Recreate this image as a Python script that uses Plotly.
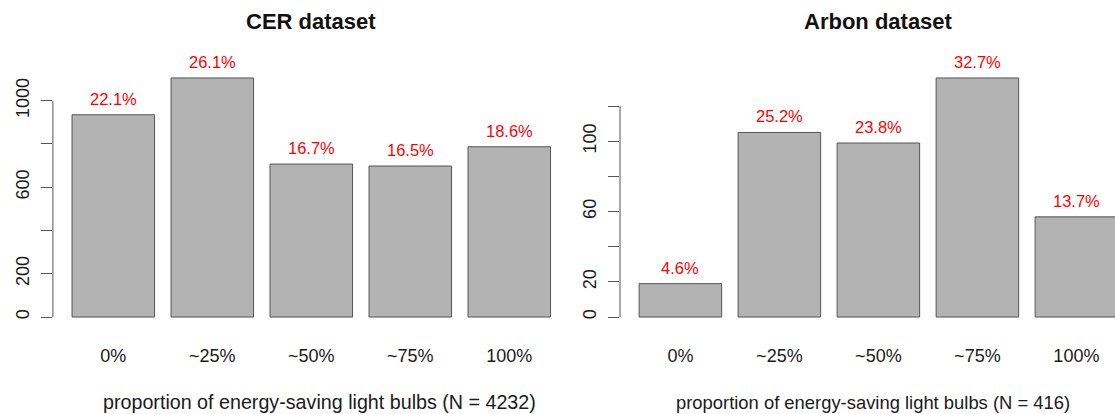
import plotly.graph_objects as go

# ---------------- data ----------------
categories = ["0%", "~25%", "~50%", "~75%", "100%"]
cer_counts = [935, 1105, 707, 698, 787]
cer_pct = ["22.1%", "26.1%", "16.7%", "16.5%", "18.6%"]
arbon_counts = [19, 105, 99, 136, 57]
arbon_pct = ["4.6%", "25.2%", "23.8%", "32.7%", "13.7%"]
cer_yticks = [0, 200, 400, 600, 800, 1000]
cer_yticklabels = ["0", "200", "", "600", "", "1000"]
arbon_yticks = [0, 20, 40, 60, 80, 100, 120]
arbon_yticklabels = ["0", "20", "", "60", "", "100", ""]
titles = ["CER dataset", "Arbon dataset"]
xtitles = ["proportion of energy-saving light bulbs (N = 4232)",
           "proportion of energy-saving light bulbs (N = 416)"]

# ---------------- geometry ----------------
W, H = 1115, 414
FONT = "Liberation Sans, Arial, Helvetica, sans-serif"
bar_w, space = 1.0, 0.2
n = len(categories)
centers = [space + i * (bar_w + space) + bar_w / 2 for i in range(n)]
x_lo, x_hi = space, n * (bar_w + space)
x_pad = 0.04 * (x_hi - x_lo)
xr = [x_lo - x_pad, x_hi + x_pad]
px_per_unit = 82.5
left_dom = [52.9 / W, (52.9 + (xr[1] - xr[0]) * px_per_unit) / W]
right_start = 620.0
right_dom = [right_start / W, 1.0]
xr2 = [xr[0], xr[0] + (W - right_start) / px_per_unit]
ydom = [(H - 326.6) / H, (H - 68.4) / H]


def yrange(vals):
    m = max(vals)
    return [-0.04 * m, m * 1.04]


fig = go.Figure()
bar_style = dict(marker=dict(color="#B3B3B3", line=dict(color="#555555", width=1)),
                 width=bar_w, hoverinfo="skip", showlegend=False)
fig.add_trace(go.Bar(x=centers, y=cer_counts, xaxis="x", yaxis="y", **bar_style))
fig.add_trace(go.Bar(x=centers, y=arbon_counts, xaxis="x2", yaxis="y2", **bar_style))

xcommon = dict(showgrid=False, zeroline=False, showline=False, ticks="",
               tickvals=centers, ticktext=categories,
               tickfont=dict(family=FONT, size=18, color="#1a1a1a"),
               ticklabelstandoff=16, fixedrange=True)
ycommon = dict(showgrid=False, zeroline=False, showline=False, ticks="outside",
               ticklen=11, tickcolor="#555555", tickwidth=1, tickangle=-90,
               tickfont=dict(family=FONT, size=18, color="#1a1a1a"),
               ticklabelstandoff=5, domain=ydom, fixedrange=True)

fig.update_layout(
    width=W, height=H, autosize=False,
    margin=dict(l=0, r=0, t=0, b=0, pad=0),
    paper_bgcolor="white", plot_bgcolor="white",
    font=dict(family=FONT, color="#1a1a1a"),
    xaxis=dict(domain=left_dom, range=xr, anchor="y", **xcommon),
    xaxis2=dict(domain=right_dom, range=xr2, anchor="y2", **xcommon),
    yaxis=dict(anchor="x", range=yrange(cer_counts), tickvals=cer_yticks,
               ticktext=cer_yticklabels, **ycommon),
    yaxis2=dict(anchor="x2", range=yrange(arbon_counts), tickvals=arbon_yticks,
                ticktext=arbon_yticklabels, **ycommon),
)

annotations = []
shapes = []
for (xa, ya, counts, pcts, yt) in [("x", "y", cer_counts, cer_pct, cer_yticks),
                                   ("x2", "y2", arbon_counts, arbon_pct, arbon_yticks)]:
    for c, v, p in zip(centers, counts, pcts):
        annotations.append(dict(x=c, y=v, xref=xa, yref=ya, text=p, showarrow=False,
                                yshift=16, yanchor="middle",
                                font=dict(family=FONT, size=16.5, color="#FF0000")))
    shapes.append(dict(type="line", xref=xa + " domain", yref=ya, x0=0, x1=0,
                       y0=yt[0], y1=yt[-1], line=dict(color="#555555", width=1)))

title_x = [311, 878]
xtitle_x = [319, 872.5]
xtitle_size = [19.7, 18.4]
for t, tx, xt, xx, xs in zip(titles, title_x, xtitles, xtitle_x, xtitle_size):
    annotations.append(dict(x=tx / W, y=(H - 21) / H, xref="paper", yref="paper",
                            text="<b>" + t + "</b>", showarrow=False,
                            xanchor="center", yanchor="middle",
                            font=dict(family=FONT, size=22, color="#111111")))
    annotations.append(dict(x=xx / W, y=(H - 402) / H, xref="paper", yref="paper",
                            text=xt, showarrow=False, xanchor="center", yanchor="middle",
                            font=dict(family=FONT, size=xs, color="#1a1a1a")))

fig.update_layout(annotations=annotations, shapes=shapes)

fig.write_html("out.html", config={"displayModeBar": False},
               post_script="document.body.style.margin='0';document.body.style.overflow='hidden';")
